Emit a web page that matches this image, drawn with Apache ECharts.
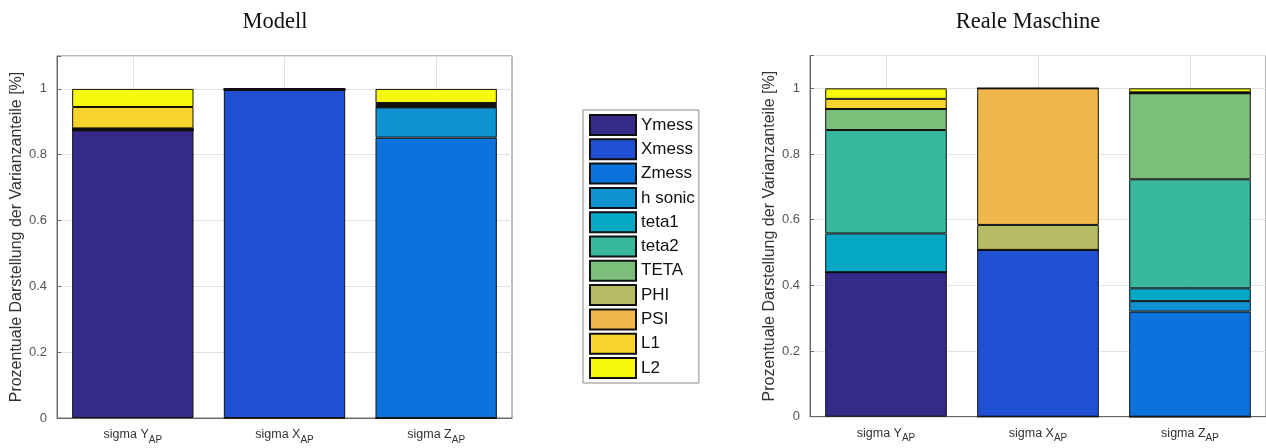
<!DOCTYPE html>
<html><head><meta charset="utf-8">
<script src="https://cdn.jsdelivr.net/npm/echarts@6/dist/echarts.min.js"></script>
<style>html,body{margin:0;padding:0;background:#fff}#c{width:1266px;height:448px}</style>
</head><body><div id="c"></div>
<script>
const categories = ['sigma Y|AP', 'sigma X|AP', 'sigma Z|AP'];
const seriesNames = ['Ymess','Xmess','Zmess','h sonic','teta1','teta2','TETA','PHI','PSI','L1','L2'];
const colors = ['#352A87','#1F50D2','#0C73DC','#0E93D0','#06A8C6','#38B89D','#7CBF7B','#B7BC64','#F0B84A','#F8D42C','#F8F80E'];
const yTicks = [0, 0.2, 0.4, 0.6, 0.8, 1];
// Modell: values per series for [sigma Y, sigma X, sigma Z]
const modYmess  = [0.874, 0, 0];
const modXmess  = [0, 0.997, 0];
const modZmess  = [0, 0, 0.852];
const modHsonic = [0, 0, 0.092];
const modTeta1  = [0.001, 0, 0.001];
const modTeta2  = [0.002, 0.001, 0.004];
const modTETA   = [0.001, 0.001, 0.002];
const modPHI    = [0.001, 0, 0.002];
const modPSI    = [0.001, 0.001, 0.002];
const modL1     = [0.065, 0, 0.002];
const modL2     = [0.055, 0, 0.043];
// Reale Maschine
const realYmess  = [0.440, 0, 0];
const realXmess  = [0, 0.508, 0];
const realZmess  = [0, 0, 0.320];
const realHsonic = [0, 0, 0.032];
const realTeta1  = [0.118, 0, 0.039];
const realTeta2  = [0.315, 0, 0.332];
const realTETA   = [0.064, 0, 0.262];
const realPHI    = [0, 0.076, 0];
const realPSI    = [0, 0.416, 0.002];
const realL1     = [0.031, 0, 0.001];
const realL2     = [0.032, 0, 0.012];

const modData = [modYmess, modXmess, modZmess, modHsonic, modTeta1, modTeta2, modTETA, modPHI, modPSI, modL1, modL2];
const realData = [realYmess, realXmess, realZmess, realHsonic, realTeta1, realTeta2, realTETA, realPHI, realPSI, realL1, realL2];

const chart = echarts.init(document.getElementById('c'), null, {renderer: 'canvas'});
const font = 'Arial, "Liberation Sans", sans-serif';

function xAxis(gi) {
  return {
    type: 'category', gridIndex: gi, data: categories,
    axisLine: {lineStyle: {color: '#666', width: 1}},
    axisTick: {show: true, alignWithLabel: true, inside: true, length: 4, lineStyle: {color: '#666'}},
    splitLine: {show: true, alignWithLabel: true, lineStyle: {color: '#e3e3e3', width: 1}},
    axisLabel: {
      margin: 10,
      formatter: v => { const p = v.split('|'); return '{a|' + p[0] + '}{s|' + p[1] + '}'; },
      rich: {
        a: {fontFamily: font, fontSize: 12.5, color: '#333', verticalAlign: 'top', lineHeight: 14},
        s: {fontFamily: font, fontSize: 10, color: '#333', verticalAlign: 'top', padding: [7, 0, 0, 0], lineHeight: 14}
      }
    }
  };
}
function yAxis(gi, gap) {
  return {
    type: 'value', gridIndex: gi, min: 0, max: 1.1, interval: 0.2,
    name: 'Prozentuale Darstellung der Varianzanteile [%]',
    nameLocation: 'middle', nameGap: gap, nameRotate: 90,
    nameTextStyle: {fontFamily: font, fontSize: 16, color: '#333'},
    axisLine: {show: true, lineStyle: {color: '#666', width: 1}},
    axisTick: {show: true, inside: true, length: 4, lineStyle: {color: '#666'}},
    splitLine: {show: true, lineStyle: {color: '#e3e3e3', width: 1}},
    axisLabel: {
      fontFamily: font, fontSize: 13, color: '#555', margin: 10,
      formatter: v => (yTicks.some(t => Math.abs(t - v) < 1e-9) ? String(+v.toFixed(1)) : '')
    }
  };
}

const series = [];
seriesNames.forEach((n, i) => {
  series.push({
    name: n, type: 'bar', stack: 'mod', xAxisIndex: 0, yAxisIndex: 0,
    data: modData[i], barWidth: '80%',
    itemStyle: {color: colors[i], borderColor: '#111', borderWidth: 1},
    emphasis: {disabled: true}
  });
  series.push({
    name: n, type: 'bar', stack: 'real', xAxisIndex: 1, yAxisIndex: 1,
    data: realData[i], barWidth: '80%',
    itemStyle: {color: colors[i], borderColor: '#111', borderWidth: 1},
    emphasis: {disabled: true}
  });
});

const titleStyle = {fontFamily: '"Liberation Serif", "Times New Roman", serif', fontSize: 22.5, fontWeight: 'normal', color: '#111'};
chart.setOption({
  animation: false,
  backgroundColor: '#fff',
  title: [
    {text: 'Modell', left: 270, top: 6, textAlign: 'center', textStyle: titleStyle},
    {text: 'Reale Maschine', left: 1023, top: 6, textAlign: 'center', textStyle: titleStyle}
  ],
  legend: {
    data: seriesNames, orient: 'vertical', left: 583, top: 110,
    itemWidth: 46, itemHeight: 20, itemGap: 2.3, icon: 'rect',
    padding: [4, 4, 4, 6], borderColor: '#888', borderWidth: 1, backgroundColor: '#fff',
    selectedMode: false,
    textStyle: {fontFamily: font, fontSize: 17, color: '#111'}
  },
  grid: [
    {left: 57, top: 56, width: 455, height: 362, show: true, borderColor: '#777', borderWidth: 1, backgroundColor: '#fff', containLabel: false},
    {left: 810, top: 55.5, width: 457.5, height: 361.2, show: true, borderColor: '#777', borderWidth: 1, backgroundColor: '#fff', containLabel: false}
  ],
  xAxis: [xAxis(0), xAxis(1)],
  yAxis: [yAxis(0, 31), yAxis(1, 30)],
  series: series
});
</script></body></html>
